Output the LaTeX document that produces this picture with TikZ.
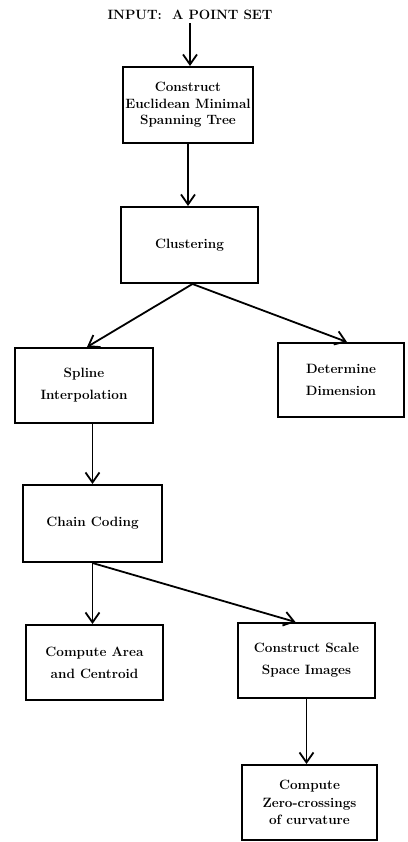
\documentclass[tikz,border=0pt]{standalone}
\usepackage{tikz}
\usetikzlibrary{arrows.meta}

\tikzset{
  box/.style={draw, line width=2pt, minimum width=137pt, minimum height=75pt,
    align=center, font=\fontsize{13.5}{22}\selectfont\bfseries, inner sep=2pt},
  tight/.style={font=\fontsize{13.5}{16.5}\selectfont\bfseries},
  flow/.style={line width=1.8pt, -{Straight Barb[length=10pt,width=14pt,line width=1.8pt]}}
}

\begin{document}
\begin{tikzpicture}[x=1pt,y=-1pt]
\useasboundingbox (0,0) rectangle (407,842);
\node[font=\fontsize{13.5}{16}\selectfont\bfseries] (input) at (190,15) {INPUT:\ \ A POINT SET};
\node[box, tight, minimum width=130pt, minimum height=76pt] (emst) at (188,105) {Construct\\Euclidean Minimal\\Spanning Tree};
\node[box, minimum height=76pt] (clust) at (189.5,245) {Clustering};
\node[box, minimum width=138pt] (spline) at (84,385.5) {Spline\\Interpolation};
\node[box, minimum width=126pt, minimum height=74pt] (dim) at (341,380) {Determine\\Dimension};
\node[box, minimum width=139pt, minimum height=77pt] (chain) at (92.5,523.5) {Chain Coding};
\node[box] (area) at (94.5,662.5) {Compute Area\\and Centroid};
\node[box] (scale) at (306.5,660.5) {Construct Scale\\Space Images};
\node[box, tight, font=\fontsize{13.5}{17.5}\selectfont\bfseries, minimum width=135pt] (zero) at (309.5,802.5) {Compute\\Zero-crossings\\of curvature};

\draw[flow] (input) -- (input |- emst.north);
\draw[flow] (emst) -- (emst.south |- clust.north);
\draw[flow] ([xshift=3pt]clust.south) -- ([xshift=3pt]spline.north);
\draw[flow] ([xshift=3pt]clust.south) -- ([xshift=6pt]dim.north);
\draw[flow] (chain.north |- spline.south) -- (chain.north);
\draw[flow] (chain.south) -- (chain.south |- area.north);
\draw[flow] (chain.south) -- ([xshift=-11pt]scale.north);
\draw[flow] (scale.south) -- (scale.south |- zero.north);
\end{tikzpicture}
\end{document}
